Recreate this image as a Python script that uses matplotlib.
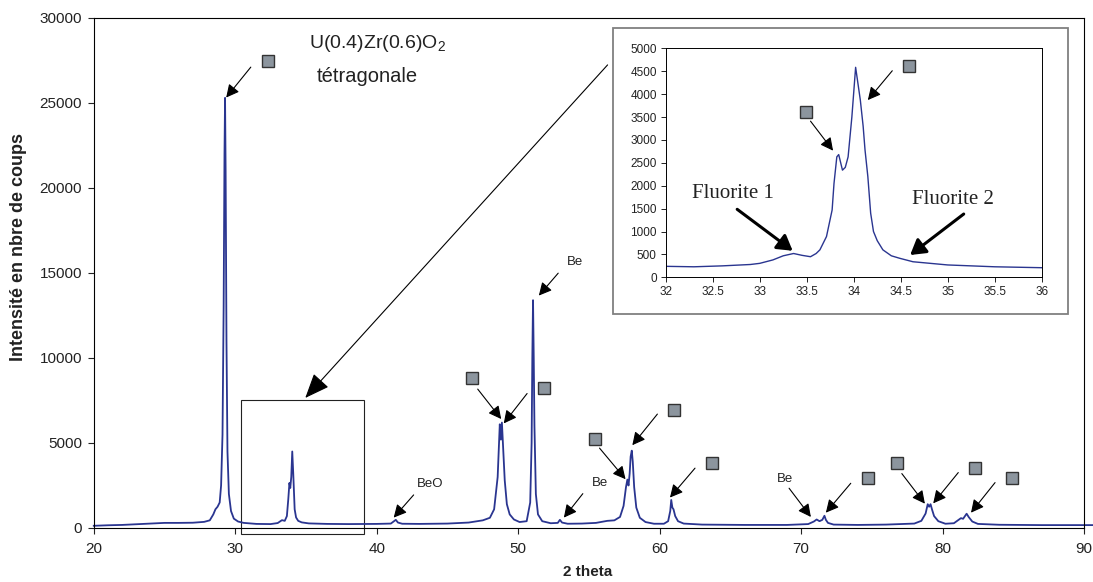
import matplotlib
matplotlib.use('Agg')
import matplotlib.pyplot as plt
import matplotlib.patches as mpatches

plt.rcParams['font.family'] = ['Liberation Sans', 'DejaVu Sans']
plt.rcParams['mathtext.fontset'] = 'custom'
plt.rcParams['mathtext.rm'] = 'Liberation Sans'

LINE = '#2A3590'
SQ_FACE, SQ_EDGE = '#8C959E', '#333333'

# main diffractogram (2 theta, counts)
two_theta = [20.0, 21.0, 22.0, 23.0, 24.0, 25.0, 26.0, 27.0, 27.8, 28.2,
             28.45, 28.6, 28.75, 28.9, 29.0, 29.1, 29.18, 29.24, 29.28, 29.32,
             29.38, 29.45, 29.55, 29.7, 29.9, 30.2, 30.6, 31.5, 32.5, 33.0,
             33.3, 33.5, 33.65, 33.75, 33.83, 33.89, 33.96, 34.03, 34.1, 34.2,
             34.3, 34.45, 34.7, 35.2, 36.5, 38.0, 40.0, 41.0, 41.25, 41.35,
             41.5, 41.8, 43.0, 45.0, 46.5, 47.5, 48.0, 48.3, 48.55, 48.7,
             48.78, 48.85, 48.92, 49.05, 49.2, 49.4, 49.7, 50.1, 50.6, 50.85,
             50.95, 51.0, 51.05, 51.1, 51.15, 51.25, 51.4, 51.7, 52.3, 52.8,
             52.95, 53.1, 53.5, 54.5, 55.5, 56.3, 56.8, 57.2, 57.45, 57.62,
             57.72, 57.8, 57.88, 57.95, 58.03, 58.1, 58.2, 58.35, 58.6, 59.0,
             59.6, 60.3, 60.6, 60.75, 60.82, 60.9, 60.98, 61.1, 61.3, 61.7,
             63.0, 66.0, 69.0, 70.5, 70.9, 71.1, 71.3, 71.5, 71.65, 71.75,
             71.9, 72.3, 74.0, 76.0, 78.0, 78.5, 78.8, 78.95, 79.05, 79.15,
             79.25, 79.4, 79.7, 80.2, 80.8, 81.1, 81.3, 81.45, 81.55, 81.7,
             81.85, 82.1, 82.5, 84.0, 87.0, 90.0, 90.6]
counts = [130, 160, 180, 220, 260, 300, 300, 310, 360, 450,
          800, 1100, 1250, 1500, 2500, 5500, 13000, 22000, 25300, 21000,
          11000, 4500, 2000, 1000, 550, 380, 300, 240, 230, 290,
          460, 420, 700, 1700, 2650, 2350, 3000, 4500, 3200, 1100,
          620, 420, 330, 270, 240, 230, 240, 260, 420, 480,
          320, 250, 240, 260, 320, 450, 600, 1100, 3000, 6100,
          5200, 6200, 5000, 2800, 1400, 800, 500, 350, 400, 1500,
          5000, 10000, 13400, 10000, 6000, 2000, 800, 400, 280, 300,
          480, 320, 250, 260, 300, 420, 450, 650, 1300, 2400,
          2850, 2500, 3200, 4200, 4550, 3900, 2400, 1200, 600, 350,
          250, 250, 400, 1000, 1650, 1200, 1100, 700, 400, 260,
          200, 180, 180, 230, 380, 500, 400, 480, 720, 480,
          300, 200, 180, 200, 260, 420, 850, 1400, 1250, 1400,
          1100, 700, 400, 250, 280, 460, 580, 540, 660, 840,
          640, 380, 240, 190, 170, 170, 170]

# inset: zoom on 32-36
inset_theta = [32.0, 32.3, 32.6, 32.9, 33.0, 33.14, 33.25, 33.36, 33.45, 33.54,
               33.6, 33.64, 33.71, 33.77, 33.79, 33.82, 33.84, 33.88, 33.91, 33.94,
               33.98, 34.02, 34.07, 34.1, 34.12, 34.15, 34.18, 34.21, 34.25, 34.31,
               34.4, 34.49, 34.63, 35.0, 35.5, 36.0]
inset_counts = [240, 230, 250, 280, 305, 380, 470, 520, 480, 450,
                520, 600, 890, 1470, 2050, 2630, 2680, 2340, 2400, 2630,
                3500, 4585, 3870, 3300, 2780, 2200, 1400, 1000, 800, 600,
                470, 415, 340, 270, 230, 210]

# phase markers on main plot: (square x, square y, arrow start x, y, tip x, y)
main_squares = [(32.35, 27460, 31.10, 27110, 29.36, 25320),
                (46.74, 8820, 47.14, 8170, 48.80, 6410),
                (51.81, 8210, 50.63, 7910, 48.98, 6150),
                (55.40, 5260, 55.75, 4700, 57.59, 2870),
                (61.00, 6950, 59.84, 6700, 58.07, 4870),
                (63.70, 3810, 62.50, 3520, 60.73, 1790),
                (74.70, 2960, 73.51, 2630, 71.75, 900),
                (76.77, 3850, 77.12, 3200, 78.75, 1430),
                (82.29, 3550, 81.11, 3260, 79.34, 1450),
                (84.89, 2960, 83.71, 2670, 82.01, 900)]
main_labels = [('Be', 54.00, 15630, 52.83, 14990, 51.46, 13670),
               ('BeO', 43.79, 2575, 42.61, 1945, 41.20, 610),
               ('Be', 55.78, 2630, 54.57, 2020, 53.23, 610),
               ('Be', 68.85, 2870, 69.15, 2340, 70.69, 650)]
inset_squares = [(33.49, 3610, 33.54, 3410, 33.78, 2765),
                 (34.59, 4620, 34.41, 4510, 34.15, 3870)]
inset_labels = [('Fluorite 1', 32.71, 1834, 32.76, 1485, 33.35, 580),
                ('Fluorite 2', 35.06, 1703, 35.17, 1382, 34.60, 487)]

fig = plt.figure(figsize=(10.93, 5.82), dpi=100)
ax = fig.add_axes([0.0858, 0.0928, 0.906, 0.8763])
ax.plot(two_theta, counts, color=LINE, lw=1.3, clip_on=False)
ax.set_xlim(20, 90)
ax.set_ylim(0, 30000)
ax.set_xticks(range(20, 91, 10))
ax.set_yticks(range(0, 30001, 5000))
ax.tick_params(direction='out', length=4, width=0.8, labelsize=11,
               colors='#222222')
ax.tick_params(axis='x', pad=6)
ax.tick_params(axis='y', pad=4.5)
for s in ax.spines.values():
    s.set_linewidth(0.8)

arrow_thin = dict(arrowstyle='-|>,head_length=0.55,head_width=0.28',
                  mutation_scale=14, lw=0.8, color='black',
                  shrinkA=0, shrinkB=0)

for sx, sy, ax0, ay0, tx, ty in main_squares:
    ax.plot(sx, sy, 's', ms=9, mfc=SQ_FACE, mec=SQ_EDGE, mew=1.0, clip_on=False)
    ax.annotate('', xy=(tx, ty), xytext=(ax0, ay0), arrowprops=arrow_thin)

for txt, lx, ly, ax0, ay0, tx, ty in main_labels:
    ax.text(lx, ly, txt, fontsize=9.5, ha='center', va='center', color='#222222')
    ax.annotate('', xy=(tx, ty), xytext=(ax0, ay0), arrowprops=arrow_thin)

ax.text(40.06, 28470, r'U(0.4)Zr(0.6)O$_2$', fontsize=14, ha='center',
        va='center', color='#222222')
ax.text(39.35, 26530, 'tétragonale', fontsize=14.5, ha='center', va='center',
        color='#222222')

# zoom box and pointer to the inset
ax.add_patch(mpatches.Rectangle((30.39, -370), 8.68, 7890, fill=False,
                                lw=0.8, ec='#222222', clip_on=False))
ax.annotate('', xy=(34.95, 7650), xytext=(56.32, 27240),
            arrowprops=dict(arrowstyle='-|>,head_length=1.1,head_width=0.45',
                            mutation_scale=14, lw=0.8, color='black',
                            shrinkA=0, shrinkB=0))

fig.text(0.0165, 0.575, 'Intensité en nbre de coups', rotation=90,
         fontsize=13, fontweight='bold', ha='center', va='center',
         color='#222222')
fig.text(0.538, 0.017, '2 theta', fontsize=11, fontweight='bold',
         ha='center', va='center', color='#222222')

# inset frame
fig.patches.append(mpatches.Rectangle((0.5611, 0.4605), 0.4157, 0.4909,
                                      transform=fig.transFigure, fc='white',
                                      ec='#808080', lw=1.3, zorder=1))

axi = fig.add_axes([0.6091, 0.5235, 0.344, 0.3935])
axi.set_zorder(2)
axi.plot(inset_theta, inset_counts, color=LINE, lw=1.0)
axi.set_xlim(32, 36)
axi.set_ylim(0, 5000)
axi.set_xticks([32, 32.5, 33, 33.5, 34, 34.5, 35, 35.5, 36])
axi.set_xticklabels(['32', '32.5', '33', '33.5', '34', '34.5', '35', '35.5', '36'])
axi.set_yticks(range(0, 5001, 500))
axi.tick_params(direction='out', length=3.5, width=0.7, labelsize=8.5,
                colors='#222222', pad=3)
for s in axi.spines.values():
    s.set_linewidth(0.7)

for sx, sy, ax0, ay0, tx, ty in inset_squares:
    axi.plot(sx, sy, 's', ms=9, mfc=SQ_FACE, mec=SQ_EDGE, mew=1.0)
    axi.annotate('', xy=(tx, ty), xytext=(ax0, ay0), arrowprops=arrow_thin)

for txt, lx, ly, ax0, ay0, tx, ty in inset_labels:
    axi.text(lx, ly, txt, fontsize=15, ha='center', va='center',
             family=['Liberation Serif', 'DejaVu Serif'], color='#222222')
    axi.annotate('', xy=(tx, ty), xytext=(ax0, ay0),
                 arrowprops=dict(arrowstyle='-|>,head_length=0.5,head_width=0.3',
                                 mutation_scale=18, lw=2.2, color='black',
                                 shrinkA=0, shrinkB=0))

fig.savefig('out.png', dpi=100)
